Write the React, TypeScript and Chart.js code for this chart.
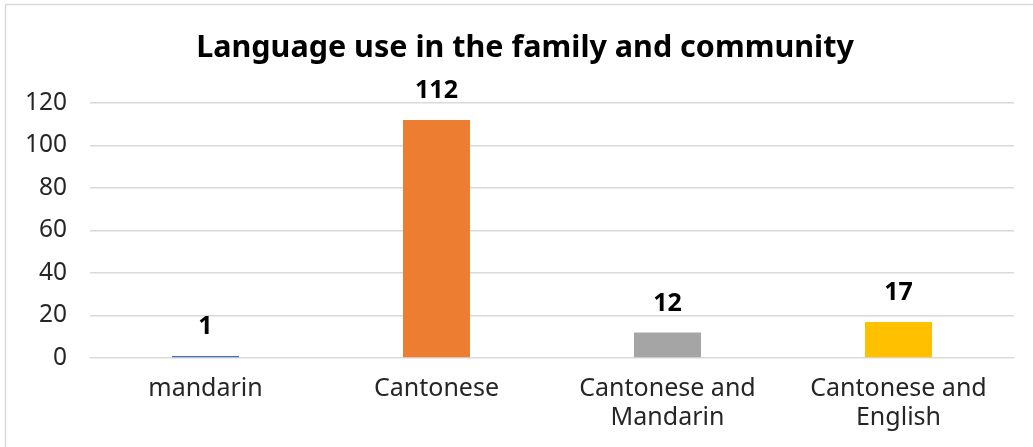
import React, { useEffect, useRef } from "react";
import { Chart, registerables } from "chart.js";

Chart.register(...registerables);

const TITLE = "Language use in the family and community";
const categories: (string | string[])[] = [
  "mandarin",
  "Cantonese",
  ["Cantonese and", "Mandarin"],
  ["Cantonese and", "English"],
];
const values = [1, 112, 12, 17];
const barColors = ["#4472C4", "#ED7D31", "#A5A5A5", "#FFC000"];
const yMin = 0;
const yMax = 120;
const yStep = 20;

const FONT = "'Noto Sans', 'DejaVu Sans', sans-serif";

const borderPlugin = {
  id: "outerBorder",
  beforeDraw(chart: any) {
    const ctx = chart.ctx;
    ctx.save();
    ctx.fillStyle = "#ffffff";
    ctx.fillRect(0, 0, chart.width, chart.height);
    ctx.strokeStyle = "#d9d9d9";
    ctx.lineWidth = 1.5;
    ctx.strokeRect(5.5, 4.5, chart.width + 20, chart.height + 20);
    ctx.restore();
  },
};

const titlePlugin = {
  id: "centeredTitle",
  afterDraw(chart: any) {
    const ctx = chart.ctx;
    ctx.save();
    ctx.font = `bold 30.5px ${FONT}`;
    ctx.fillStyle = "#000000";
    ctx.textAlign = "center";
    ctx.textBaseline = "alphabetic";
    ctx.fillText(TITLE, 525, 57);
    ctx.restore();
  },
};

const valueLabelPlugin = {
  id: "valueLabels",
  afterDatasetsDraw(chart: any) {
    const ctx = chart.ctx;
    const meta = chart.getDatasetMeta(0);
    ctx.save();
    ctx.font = `bold 25px ${FONT}`;
    ctx.fillStyle = "#000000";
    ctx.textAlign = "center";
    ctx.textBaseline = "alphabetic";
    meta.data.forEach((bar: any, i: number) => {
      ctx.fillText(String(values[i]), bar.x, bar.y - 22);
    });
    ctx.restore();
  },
};

export default function App() {
  const canvasRef = useRef<HTMLCanvasElement | null>(null);

  useEffect(() => {
    document.body.style.margin = "0";
    const canvas = canvasRef.current;
    if (!canvas) return;
    const chart = new Chart(canvas, {
      type: "bar",
      data: {
        labels: categories,
        datasets: [
          {
            data: values,
            backgroundColor: barColors,
            borderWidth: 0,
            categoryPercentage: 1,
            barPercentage: 0.29,
          },
        ],
      },
      options: {
        animation: false,
        responsive: false,
        maintainAspectRatio: false,
        layout: { padding: { left: 0, right: 19, top: 103, bottom: 0 } },
        plugins: {
          legend: { display: false },
          tooltip: { enabled: false },
          title: { display: false },
        },
        scales: {
          x: {
            grid: { display: false, drawTicks: false },
            border: { display: false },
            ticks: {
              color: "#262626",
              font: { family: FONT, size: 25, lineHeight: 1.18 },
              padding: 16,
              maxRotation: 0,
              autoSkip: false,
            },
            afterFit(scale: any) {
              scale.height = 89;
            },
          },
          y: {
            min: yMin,
            max: yMax,
            grid: { color: "#d9d9d9", lineWidth: 1.5, drawTicks: false },
            border: { display: false },
            ticks: {
              stepSize: yStep,
              color: "#262626",
              font: { family: FONT, size: 24.5 },
              padding: 23,
            },
            afterFit(scale: any) {
              scale.width = 90;
            },
          },
        },
      },
      plugins: [borderPlugin, valueLabelPlugin, titlePlugin],
    });
    return () => chart.destroy();
  }, []);

  return (
    <div style={{ width: 1033, height: 447 }}>
      <canvas ref={canvasRef} width={1033} height={447} />
    </div>
  );
}
